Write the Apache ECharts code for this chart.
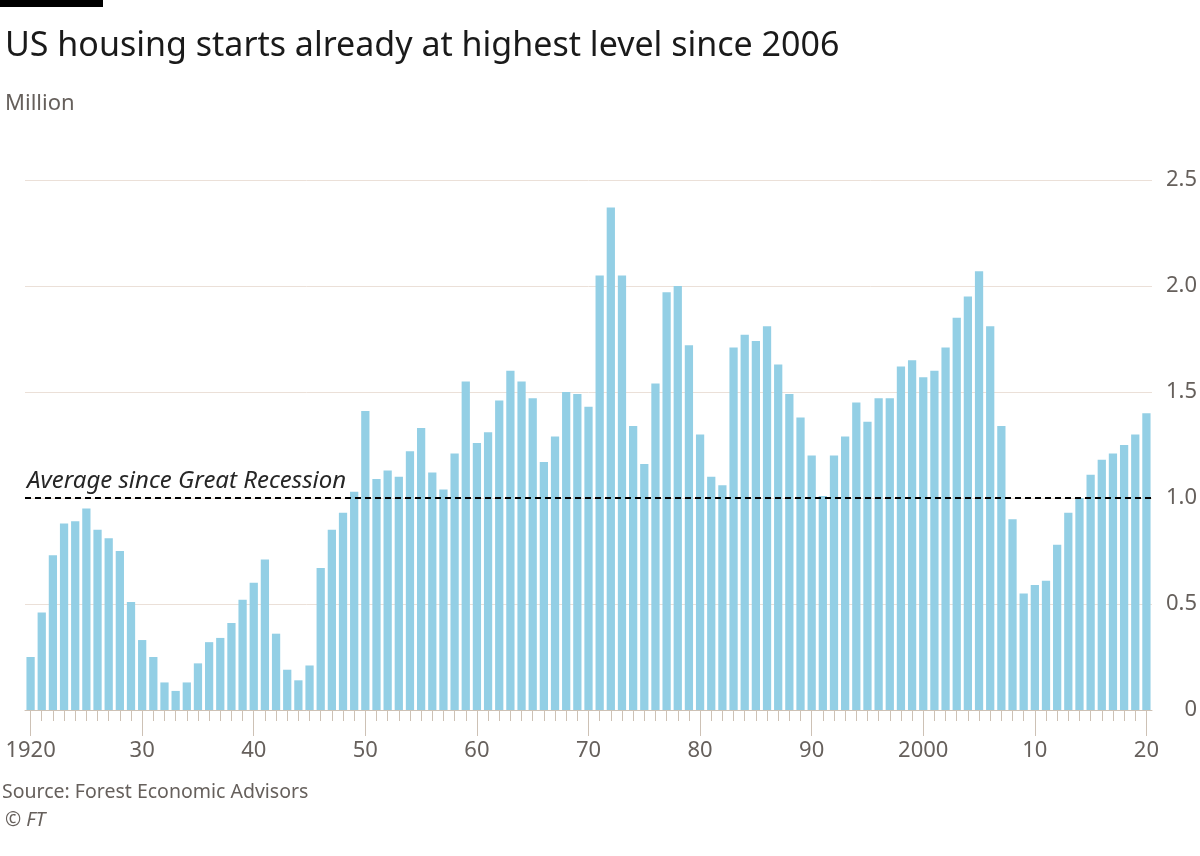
<!DOCTYPE html>
<html>
<head>
<meta charset="utf-8">
<script src="https://cdn.jsdelivr.net/npm/echarts@6/dist/echarts.min.js"></script>
<style>
  html, body { margin: 0; padding: 0; background: #fff; }
  #chart { width: 1200px; height: 856px; }
</style>
</head>
<body>
<div id="chart"></div>
<script>
  // housing starts, million units, 1920-2020
  const years = []
  for (let y = 1920; y <= 2020; y++) years.push(String(y))

  const starts = [
    0.25, 0.46, 0.73, 0.88, 0.89, 0.95, 0.85, 0.81, 0.75, 0.51,
    0.33, 0.25, 0.13, 0.09, 0.13, 0.22, 0.32, 0.34, 0.41, 0.52,
    0.60, 0.71, 0.36, 0.19, 0.14, 0.21, 0.67, 0.85, 0.93, 1.03,
    1.41, 1.09, 1.13, 1.10, 1.22, 1.33, 1.12, 1.04, 1.21, 1.55,
    1.26, 1.31, 1.46, 1.60, 1.55, 1.47, 1.17, 1.29, 1.50, 1.49,
    1.43, 2.05, 2.37, 2.05, 1.34, 1.16, 1.54, 1.97, 2.00, 1.72,
    1.30, 1.10, 1.06, 1.71, 1.77, 1.74, 1.81, 1.63, 1.49, 1.38,
    1.20, 1.01, 1.20, 1.29, 1.45, 1.36, 1.47, 1.47, 1.62, 1.65,
    1.57, 1.60, 1.71, 1.85, 1.95, 2.07, 1.81, 1.34, 0.90, 0.55,
    0.59, 0.61, 0.78, 0.93, 1.00, 1.11, 1.18, 1.21, 1.25, 1.30,
    1.40,
  ]

  const avgSinceRecession = 1.0
  const decadeLabels = ['1920', '30', '40', '50', '60', '70', '80', '90', '2000', '10', '20']
  const yTicks = ['0', '0.5', '1.0', '1.5', '2.0', '2.5']

  const font = 'Noto Sans'
  const grey = '#66605c'
  const tickColor = '#cdc1b5'

  const chart = echarts.init(document.getElementById('chart'))

  chart.setOption({
    animation: false,
    textStyle: { fontFamily: font },
    title: [
      {
        text: 'US housing starts already at highest level since 2006',
        left: 0,
        top: 24,
        textStyle: { fontSize: 34, fontWeight: 'normal', color: '#1a1a1a', fontFamily: font },
      },
      {
        text: 'Million',
        left: 0,
        top: 88,
        textStyle: { fontSize: 22, fontWeight: 'normal', color: grey, fontFamily: font },
      },
      {
        text: 'Source: Forest Economic Advisors',
        left: -3,
        top: 777,
        textStyle: { fontSize: 19.5, fontWeight: 'normal', color: grey, fontFamily: font },
      },
      {
        text: '© FT',
        left: 0,
        top: 805,
        textStyle: { fontSize: 19.5, fontWeight: 'normal', fontStyle: 'italic', color: grey, fontFamily: font },
      },
    ],
    graphic: [
      { type: 'rect', left: 0, top: 0, shape: { width: 103, height: 7 }, style: { fill: '#000' } },
    ],
    grid: {
      left: 25,
      right: 48,
      top: 180,
      bottom: 146,
    },
    xAxis: [
      {
        type: 'category',
        data: years,
        axisLine: { show: true, lineStyle: { color: tickColor, width: 1 } },
        axisTick: { show: true, interval: 0, alignWithLabel: true, length: 11, lineStyle: { color: tickColor, width: 1 } },
        axisLabel: { show: false },
      },
      {
        type: 'category',
        data: years,
        position: 'bottom',
        axisLine: { show: false },
        axisTick: {
          show: true,
          alignWithLabel: true,
          length: 26,
          interval: (i) => i % 10 === 0,
          lineStyle: { color: tickColor, width: 1 },
        },
        axisLabel: {
          interval: (i) => i % 10 === 0,
          formatter: (v, i) => decadeLabels[i / 10],
          margin: 30,
          fontSize: 22,
          color: grey,
          fontFamily: font,
        },
      },
    ],
    yAxis: {
      type: 'value',
      position: 'right',
      min: 0,
      max: 2.5,
      interval: 0.5,
      axisLine: { show: false },
      axisTick: { show: false },
      splitLine: { lineStyle: { color: '#ebe0d8', width: 1 } },
      axisLabel: {
        align: 'right',
        margin: 45,
        fontSize: 22,
        color: grey,
        fontFamily: font,
        formatter: (v) => yTicks[Math.round(v / 0.5)],
      },
    },
    series: [
      {
        type: 'bar',
        data: starts,
        barCategoryGap: '26%',
        itemStyle: { color: '#93cfe5' },
        markLine: {
          silent: true,
          symbol: 'none',
          lineStyle: { color: '#000', type: [6, 4], width: 2 },
          label: {
            position: 'insideStartTop',
            formatter: 'Average since Great Recession',
            fontSize: 24,
            fontStyle: 'italic',
            color: '#262626',
            fontFamily: font,
            distance: [2, 5],
          },
          data: [{ yAxis: avgSinceRecession }],
        },
      },
    ],
  })
</script>
</body>
</html>
